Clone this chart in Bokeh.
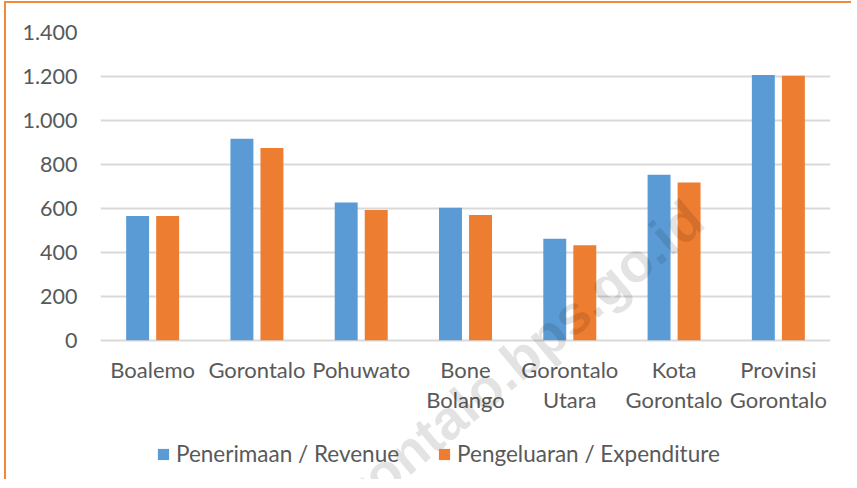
from bokeh.plotting import figure
from bokeh.models import (FactorRange, Range1d, FixedTicker, Legend, LegendItem,
                          Label, ColumnDataSource)
from bokeh.core.properties import value
from bokeh.transform import dodge
from bokeh.embed import file_html
from bokeh.resources import INLINE

categories = ["Boalemo", "Gorontalo", "Pohuwato", "Bone Bolango",
              "Gorontalo Utara", "Kota Gorontalo", "Provinsi Gorontalo"]
revenue = [565, 916, 627, 603, 461, 753, 1207]
expenditure = [565, 875, 592, 570, 432, 718, 1203]
y_ticks = [0, 200, 400, 600, 800, 1000, 1200, 1400]
y_tick_labels = ["0", "200", "400", "600", "800", "1.000", "1.200", "1.400"]
series_names = ["Penerimaan / Revenue", "Pengeluaran / Expenditure"]
watermark = "gorontalo.bps.go.id"

label_line1 = [c.split(" ", 1)[0] for c in categories]
label_line2 = [(c.split(" ", 1)[1] if " " in c else "") for c in categories]

FONT = "Lato"
FS_Y = "21.5px"
FS_CAT = "22px"
FS_LEG = "22.5px"
TXT = "#595959"
BLUE = "#5B9BD5"
ORANGE = "#ED7D31"
GRID = "#D9D9D9"

src = ColumnDataSource(dict(cat=categories, rev=revenue, exp=expenditure,
                            l1=label_line1, l2=label_line2))

# the frame reaches down to the bottom of the canvas so that the category
# labels, legend and watermark sit under the zero line
p = figure(x_range=FactorRange(factors=categories, range_padding=0),
           y_range=Range1d(-643, 1400), x_axis_location=None,
           width=847, height=478, output_backend="svg", toolbar_location=None,
           min_border_left=94, min_border_right=23, min_border_top=29,
           min_border_bottom=0)
p.styles = {"border-left": "2px solid #F08A3C", "border-top": "2px solid #F08A3C",
            "margin-left": "4px", "margin-top": "1px"}
p.outline_line_color = None
p.background_fill_color = "white"
p.border_fill_color = "white"

r1 = p.vbar(x=dodge("cat", -0.144, range=p.x_range), top="rev", width=0.22,
            source=src, fill_color=BLUE, line_color=None)
r2 = p.vbar(x=dodge("cat", 0.144, range=p.x_range), top="exp", width=0.22,
            source=src, fill_color=ORANGE, line_color=None)

# y axis
ticker = FixedTicker(ticks=y_ticks)
p.yaxis.ticker = ticker
p.yaxis.major_label_overrides = {t: l for t, l in zip(y_ticks, y_tick_labels)}
p.yaxis.axis_line_color = None
p.yaxis.major_tick_line_color = None
p.yaxis.minor_tick_line_color = None
p.yaxis.major_tick_out = 0
p.yaxis.major_label_standoff = 23
p.yaxis.major_label_text_font = FONT
p.yaxis.major_label_text_font_size = FS_Y
p.yaxis.major_label_text_color = TXT

p.xgrid.grid_line_color = None
p.ygrid.ticker = ticker
p.ygrid.grid_line_color = GRID
p.ygrid.grid_line_width = 2

# category labels (two lines) under the zero line
p.text(x="cat", y=0, text="l1", source=src, y_offset=29,
       text_align="center", text_baseline="alphabetic",
       text_font=value(FONT), text_font_size=FS_CAT, text_color=TXT)
p.text(x="cat", y=0, text="l2", source=src, y_offset=59,
       text_align="center", text_baseline="alphabetic",
       text_font=value(FONT), text_font_size=FS_CAT, text_color=TXT)

legend = Legend(items=[LegendItem(label=series_names[0], renderers=[r1]),
                       LegendItem(label=series_names[1], renderers=[r2])],
                orientation="horizontal", location=(56, 14),
                glyph_width=14, glyph_height=14, label_standoff=6, spacing=38,
                padding=0, margin=0, border_line_color=None,
                background_fill_alpha=0,
                label_text_font=FONT, label_text_font_size=FS_LEG,
                label_text_color=TXT)
p.add_layout(legend, "center")

wm = Label(x=5.705, y=586, text=watermark, angle=40, angle_units="deg",
           text_align="right", text_baseline="middle", text_font="Liberation Sans",
           text_font_style="bold", text_font_size="55px", text_color="black",
           text_alpha=0.11)
p.add_layout(wm)

open("out.html", "w").write(file_html(p, INLINE))
